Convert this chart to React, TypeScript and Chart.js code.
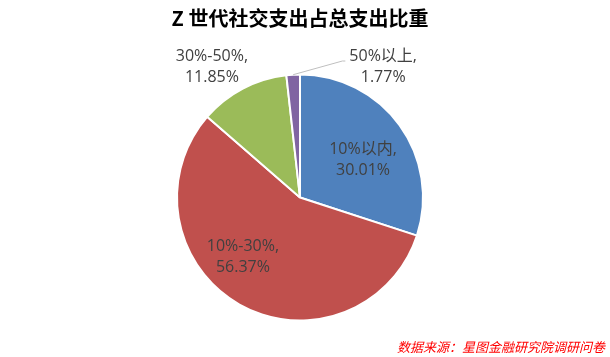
import React, { useEffect, useRef } from "react";
import { Chart, registerables } from "chart.js";

Chart.register(...registerables);

// Share of social spending within total spending, Gen Z
const categories = ["10%以内", "10%-30%", "30%-50%", "50%以上"];
const shares = [30.01, 56.37, 11.85, 1.77];
const sliceColors = ["#4F81BD", "#C0504D", "#9BBB59", "#8064A2"];

const titleText = "Z 世代社交支出占总支出比重";
const sourceText = "数据来源：星图金融研究院调研问卷";

// label placement relative to each arc: radius factor and angle shift (deg) from the arc's mid-angle
const labelRadius = [0.598, 0.67, 1.28, 1.258];
const labelShift = [4.9, 14.3, -6.3, 35.7];
const leaderLine = [false, false, false, true];

const CJK = '"Noto Sans CJK SC"';
const LABEL_FONT = `16px "Open Sans", ${CJK}, sans-serif`;

const labelPlugin = {
  id: "sliceLabels",
  afterDatasetsDraw(chart: any) {
    const ctx = chart.ctx as CanvasRenderingContext2D;
    const meta = chart.getDatasetMeta(0);
    ctx.save();
    ctx.font = LABEL_FONT;
    ctx.fillStyle = "#404040";
    ctx.textAlign = "center";
    ctx.textBaseline = "middle";
    meta.data.forEach((arc: any, i: number) => {
      const p = arc.getProps(["x", "y", "startAngle", "endAngle", "outerRadius"], true);
      const mid = (p.startAngle + p.endAngle) / 2;
      const a = mid + (labelShift[i] * Math.PI) / 180;
      const r = p.outerRadius * labelRadius[i];
      const cx = p.x + Math.cos(a) * r;
      const cy = p.y + Math.sin(a) * r;
      const line1 = categories[i] + ",";
      const line2 = shares[i].toFixed(2) + "%";
      const gap = 10.5;
      ctx.fillText(line1, cx, cy - gap);
      ctx.fillText(line2, cx, cy + gap);
      if (leaderLine[i]) {
        const sx = p.x + Math.cos(mid) * p.outerRadius;
        const sy = p.y + Math.sin(mid) * p.outerRadius;
        const w = ctx.measureText(line1).width;
        const ex = cx - w / 2 - 4;
        const ey = cy - gap + 4.5;
        ctx.strokeStyle = "#BFBFBF";
        ctx.lineWidth = 1;
        ctx.beginPath();
        ctx.moveTo(sx, sy);
        ctx.lineTo(ex - 3, ey);
        ctx.lineTo(ex, ey);
        ctx.stroke();
      }
    });
    ctx.restore();
  },
  afterDraw(chart: any) {
    const ctx = chart.ctx as CanvasRenderingContext2D;
    const w = chart.width;
    const h = chart.height;
    ctx.save();
    ctx.fillStyle = "#000000";
    ctx.font = `bold 20px ${CJK}, sans-serif`;
    ctx.textAlign = "center";
    ctx.textBaseline = "middle";
    ctx.fillText(titleText, 300, 18);
    ctx.fillStyle = "#FF0000";
    ctx.font = `italic 13px ${CJK}, sans-serif`;
    ctx.textAlign = "right";
    ctx.fillText(sourceText, w - 5, h - 10);
    ctx.restore();
  },
};

export default function App() {
  const canvasRef = useRef<HTMLCanvasElement | null>(null);

  useEffect(() => {
    const canvas = canvasRef.current;
    if (!canvas) return;
    const chart = new Chart(canvas, {
      type: "pie",
      data: {
        labels: categories,
        datasets: [
          {
            data: shares,
            backgroundColor: sliceColors,
            borderColor: "#FFFFFF",
            borderWidth: 2,
          },
        ],
      },
      options: {
        responsive: false,
        animation: false,
        layout: { padding: { left: 176, right: 186, top: 73, bottom: 35 } },
        plugins: {
          legend: { display: false },
          title: { display: false },
          tooltip: { enabled: false },
        },
      },
      plugins: [labelPlugin],
    });
    return () => chart.destroy();
  }, []);

  return (
    <div style={{ position: "fixed", left: 0, top: 0, width: 610, height: 357, background: "#FFFFFF" }}>
      <canvas ref={canvasRef} width={610} height={357} style={{ width: 610, height: 357 }} />
    </div>
  );
}
